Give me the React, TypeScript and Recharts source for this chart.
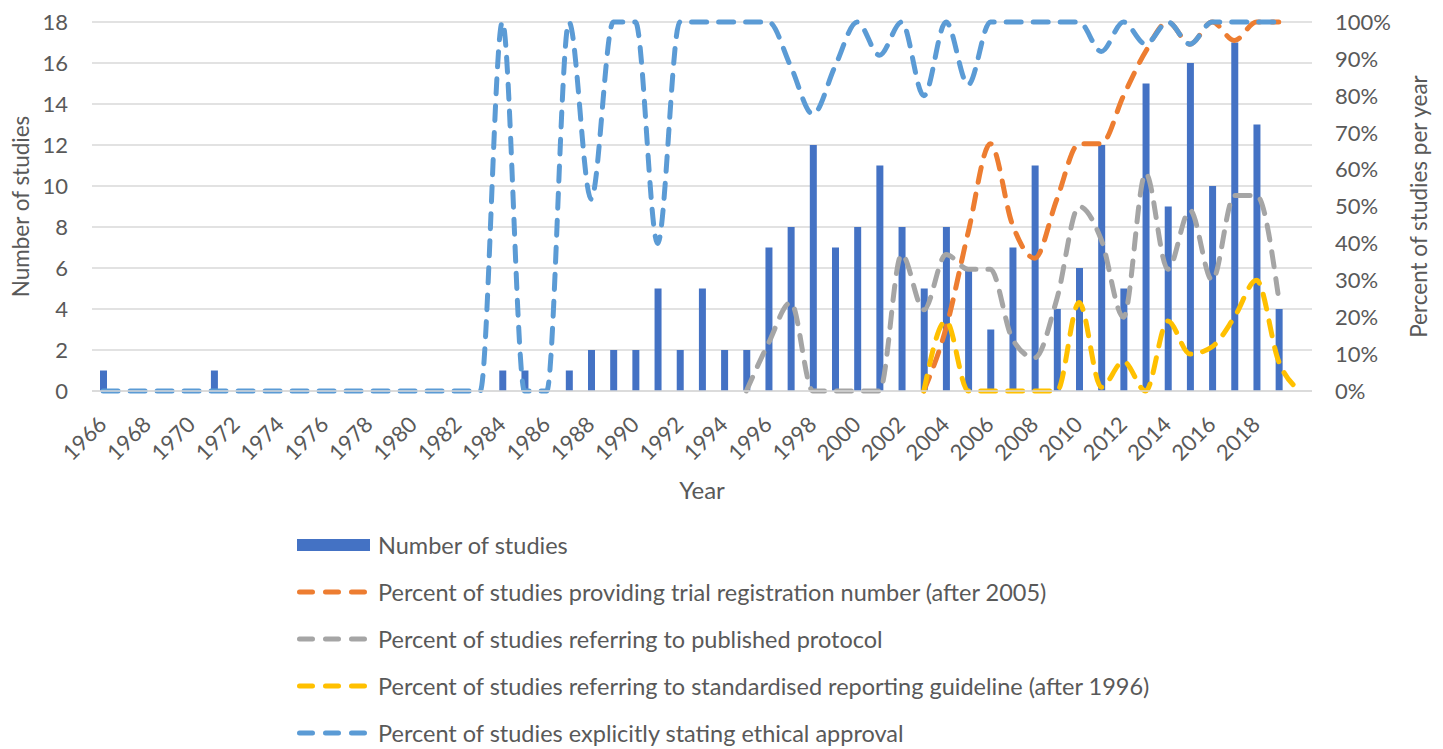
import { ComposedChart, Bar, Line, XAxis, YAxis, CartesianGrid } from 'recharts';

const years = [
  1966, 1967, 1968, 1969, 1970, 1971, 1972, 1973, 1974, 1975, 1976, 1977, 1978, 1979,
  1980, 1981, 1982, 1983, 1984, 1985, 1986, 1987, 1988, 1989, 1990, 1991, 1992, 1993,
  1994, 1995, 1996, 1997, 1998, 1999, 2000, 2001, 2002, 2003, 2004, 2005, 2006, 2007,
  2008, 2009, 2010, 2011, 2012, 2013, 2014, 2015, 2016, 2017, 2018, 2019, 2020,
];

// number of studies per year
const studies = [
  1, 0, 0, 0, 0, 1, 0, 0, 0, 0, 0, 0, 0, 0,
  0, 0, 0, 0, 1, 1, 0, 1, 2, 2, 2, 5, 2, 5,
  2, 2, 7, 8, 12, 7, 8, 11, 8, 5, 8, 6, 3, 7,
  11, 4, 6, 12, 5, 15, 9, 16, 10, 17, 13, 4, null,
];

// percentages (right axis)
const trialReg = [
  null, null, null, null, null, null, null, null, null, null, null, null, null, null,
  null, null, null, null, null, null, null, null, null, null, null, null, null, null,
  null, null, null, null, null, null, null, null, null, 0, 17, 43, 67, 45,
  36, 52, 67, 67, 80, 92, 100, 94, 100, 95, 100, 100, null,
];

const protocol = [
  null, null, null, null, null, null, null, null, null, null, null, null, null, null,
  null, null, null, null, null, null, null, null, null, null, null, null, null, null,
  null, 0, 13, 24, 0, 0, 0, 0, 37, 22, 37, 33, 33, 14,
  9, 25, 50, 41, 20, 59, 33, 49, 30, 53, 53, 25, null,
];

const guideline = [
  null, null, null, null, null, null, null, null, null, null, null, null, null, null,
  null, null, null, null, null, null, null, null, null, null, null, null, null, null,
  null, null, null, null, null, null, null, null, null, 0, 19, 0, 0, 0,
  0, 0, 24, 1, 8, 0, 19, 10, 12, 20, 30, 8, 0,
];

const ethics = [
  0, 0, 0, 0, 0, 0, 0, 0, 0, 0, 0, 0, 0, 0,
  0, 0, 0, 0, 100, 0, 0, 100, 52, 100, 100, 40, 100, 100,
  100, 100, 100, 88, 75, 88, 100, 91, 100, 80, 100, 83, 100, 100,
  100, 100, 100, 92, 100, 94, 100, 94, 100, 100, 100, 100, null,
];

const leftTicks = [0, 2, 4, 6, 8, 10, 12, 14, 16, 18];
const rightTicks = [0, 10, 20, 30, 40, 50, 60, 70, 80, 90, 100];

const chartData = years.map((year, i) => ({
  year,
  studies: studies[i],
  trialReg: trialReg[i],
  protocol: protocol[i],
  guideline: guideline[i],
  ethics: ethics[i],
}));

const FONT = 'Lato, "Open Sans", sans-serif';
const TEXT = '#595959';
const DASH = '15 12';

const lineSeries = [
  { key: 'trialReg', color: '#ED7D31', name: 'Percent of studies providing trial registration number (after 2005)' },
  { key: 'protocol', color: '#A5A5A5', name: 'Percent of studies referring to published protocol' },
  { key: 'guideline', color: '#FFC000', name: 'Percent of studies referring to standardised reporting guideline (after 1996)' },
  { key: 'ethics', color: '#5B9BD5', name: 'Percent of studies explicitly stating ethical approval' },
];

const YearTick = ({ x, y, payload }: any) => {
  const yr = Number(payload.value);
  if (yr % 2 !== 0 || yr > 2018) return null;
  const tx = x + 5;
  return (
    <text x={tx} y={y} transform={`rotate(-45 ${tx} ${y})`} textAnchor="end" fill={TEXT} fontSize={22} fontFamily={FONT}>
      {yr}
    </text>
  );
};

const sideTitle = (text: string, side: 'left' | 'right') => (props: any) => {
  const vb = props.viewBox;
  const cx = side === 'left' ? vb.x + 20 : vb.x + vb.width + 16;
  const cy = vb.y + vb.height / 2;
  return (
    <text
      x={cx}
      y={cy}
      transform={`rotate(-90 ${cx} ${cy})`}
      textAnchor="middle"
      dominantBaseline="central"
      fill={TEXT}
      fontSize={22.5}
      fontFamily={FONT}
    >
      {text}
    </text>
  );
};

function LegendBox() {
  return (
    <div style={{ position: 'absolute', left: 297, top: 521, fontFamily: FONT, fontSize: 23.5, color: TEXT }}>
      <div style={{ display: 'flex', alignItems: 'center', height: 47 }}>
        <svg width={74} height={14} style={{ marginRight: 7 }}>
          <rect x={0} y={1} width={73} height={12} fill="#4472C4" />
        </svg>
        <span>Number of studies</span>
      </div>
      {lineSeries.map((s) => (
        <div key={s.key} style={{ display: 'flex', alignItems: 'center', height: 47 }}>
          <svg width={74} height={14} style={{ marginRight: 7 }}>
            <line x1={2.5} y1={7} x2={67.5} y2={7} stroke={s.color} strokeWidth={5} strokeDasharray="13 13" strokeLinecap="round" />
          </svg>
          <span>{s.name}</span>
        </div>
      ))}
    </div>
  );
}

export default function App() {
  return (
    <div style={{ position: 'absolute', left: 0, top: 0, width: 1443, height: 749, background: '#fff' }}>
      <ComposedChart width={1443} height={749} data={chartData} margin={{ top: 22, right: 41, bottom: 248, left: 0 }}>
        <CartesianGrid yAxisId="left" vertical={false} stroke="#d9d9d9" strokeWidth={1.5} />
        <XAxis
          dataKey="year"
          interval={0}
          height={110}
          tickSize={0}
          tickMargin={35}
          tick={<YearTick />}
          axisLine={{ stroke: '#d9d9d9', strokeWidth: 1.5 }}
          tickLine={false}
          label={{ value: 'Year', position: 'insideBottom', offset: 2, fill: TEXT, fontSize: 24, fontFamily: FONT }}
        />
        <YAxis
          yAxisId="left"
          width={92}
          domain={[0, 18]}
          ticks={leftTicks}
          tickSize={0}
          tickMargin={24}
          axisLine={false}
          tickLine={false}
          tick={{ fill: TEXT, fontSize: 22, fontFamily: FONT }}
          label={{ content: sideTitle('Number of studies', 'left') }}
        />
        <YAxis
          yAxisId="right"
          orientation="right"
          width={90}
          domain={[0, 100]}
          ticks={rightTicks}
          tickFormatter={(v) => `${v}%`}
          tickSize={0}
          tickMargin={23}
          axisLine={false}
          tickLine={false}
          tick={{ fill: TEXT, fontSize: 22, fontFamily: FONT }}
          label={{ content: sideTitle('Percent of studies per year', 'right') }}
        />
        <Bar yAxisId="left" dataKey="studies" fill="#4472C4" barSize={7} isAnimationActive={false} />
        {lineSeries.map((s) => (
          <Line
            key={s.key}
            yAxisId="right"
            type="monotone"
            dataKey={s.key}
            stroke={s.color}
            strokeWidth={5}
            strokeDasharray={DASH}
            strokeLinecap="round"
            dot={false}
            activeDot={false}
            isAnimationActive={false}
          />
        ))}
      </ComposedChart>
      <LegendBox />
    </div>
  );
}
